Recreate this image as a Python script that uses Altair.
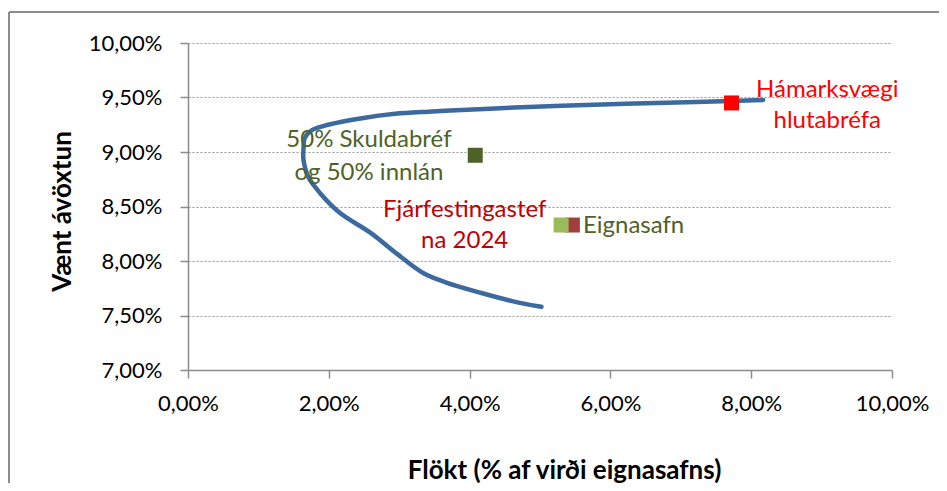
import altair as alt
import pandas as pd

# Efficient frontier (volatility %, expected return %), ordered along the curve
curve_x = [5.02, 4.62, 4.15, 3.68, 3.34, 2.96, 2.59, 2.16, 1.88, 1.71, 1.64, 1.64,
           1.66, 1.76, 1.99, 2.47, 2.94, 3.41, 3.89, 4.36, 5.31, 6.80, 8.17]
curve_y = [7.58, 7.63, 7.71, 7.80, 7.89, 8.07, 8.26, 8.44, 8.62, 8.77, 8.93, 9.02,
           9.13, 9.20, 9.25, 9.31, 9.35, 9.37, 9.385, 9.40, 9.425, 9.452, 9.477]

# Marked portfolios
point_names = ["Hámarksvægi hlutabréfa", "50% Skuldabréf og 50% innlán",
               "Fjárfestingastefna 2024", "Eignasafn"]
point_x = [7.72, 4.08, 5.46, 5.30]
point_y = [9.45, 8.97, 8.33, 8.33]

# Annotation lines (data coordinates)
label_lines = ["Hámarksvægi", "hlutabréfa", "50% Skuldabréf", "og 50% innlán",
               "Fjárfestingastef", "na 2024", "Eignasafn"]
label_x = [9.08, 9.08, 2.57, 2.57, 3.93, 3.93, 5.61]
label_y = [9.507, 9.217, 9.043, 8.743, 8.406, 8.117, 8.254]
label_group = ["max", "max", "mix", "mix", "policy", "policy", "port"]

x_ticks = [0, 2, 4, 6, 8, 10]
y_ticks = [7.0, 7.5, 8.0, 8.5, 9.0, 9.5, 10.0]

FONT = "Lato"
fmt = "replace(format(datum.value, '.2f'), '.', ',') + '%'"

X = alt.X("x:Q", scale=alt.Scale(domain=[0, 10], nice=False, zero=False),
          axis=alt.Axis(values=x_ticks, labelExpr=fmt, grid=False, labelFlush=False,
                        title="Flökt (% af virði eignasafns)",
                        titleX=376, titleY=100, titleAlign="center",
                        titleBaseline="middle", tickSize=8, labelPadding=15))
Y = alt.Y("y:Q", scale=alt.Scale(domain=[7, 10], nice=False, zero=False),
          axis=alt.Axis(values=y_ticks, labelExpr=fmt, grid=True, labelFlush=False,
                        title="Vænt ávöxtun", titleAngle=-90,
                        titleX=-126, titleY=168, titleAlign="center",
                        titleBaseline="middle", tickSize=8, labelPadding=18))

curve_df = pd.DataFrame({"x": curve_x, "y": curve_y, "i": list(range(len(curve_x)))})
pts_df = pd.DataFrame({"x": point_x, "y": point_y, "name": point_names})
lab_df = pd.DataFrame({"x": label_x, "y": label_y, "text": label_lines, "group": label_group})

curve = alt.Chart(curve_df).mark_line(
    color="#3D6A9E", strokeWidth=4.5, interpolate="catmull-rom", strokeCap="round"
).encode(x=X, y=Y, order="i:Q")

points = alt.Chart(pts_df).mark_point(
    shape="square", filled=True, size=225, opacity=1
).encode(
    x=X, y=Y,
    color=alt.Color("name:N", legend=None,
                    scale=alt.Scale(domain=point_names,
                                    range=["#FF0000", "#4F6228", "#A0403D", "#9BBB59"])),
)

label_scale = alt.Scale(domain=["max", "mix", "policy", "port"],
                        range=["#FF0000", "#4F6228", "#C00000", "#4F6228"])

labels_c = alt.Chart(lab_df).transform_filter("datum.group != 'port'").mark_text(
    align="center", baseline="alphabetic", fontSize=24, font=FONT
).encode(x=X, y=Y, text="text:N",
         color=alt.Color("group:N", scale=label_scale, legend=None))

labels_l = alt.Chart(lab_df).transform_filter("datum.group == 'port'").mark_text(
    align="left", baseline="alphabetic", fontSize=24, font=FONT
).encode(x=X, y=Y, text="text:N",
         color=alt.Color("group:N", scale=label_scale, legend=None))

frame_df = pd.DataFrame({"a": [0]})
frame_left = alt.Chart(frame_df).mark_rule(color="#8C8C8C", strokeWidth=2).encode(
    x=alt.value(-179), y=alt.value(-31), y2=alt.value(480))
frame_top = alt.Chart(frame_df).mark_rule(color="#8C8C8C", strokeWidth=2).encode(
    x=alt.value(-179), x2=alt.value(760), y=alt.value(-31))

chart = alt.layer(curve, points, labels_c, labels_l, frame_left, frame_top).resolve_scale(
    color="independent"
).properties(
    width=704, height=327,
    autosize=alt.AutoSizeParams(type="none"),
    padding={"left": 180, "top": 35, "right": 47, "bottom": 113},
    background="white",
).configure_view(stroke=None).configure_axis(
    labelFont=FONT, labelFontSize=22, labelColor="#000000",
    titleFont=FONT, titleFontSize=26, titleFontWeight="bold", titleColor="#000000",
    domainColor="#8C8C8C", domainWidth=1.5, tickColor="#8C8C8C", tickWidth=1.5,
    gridColor="#9A9A9A", gridDash=[2, 2], gridWidth=1.2,
)

chart.save("out.html", embed_options={"renderer": "svg", "actions": False})
